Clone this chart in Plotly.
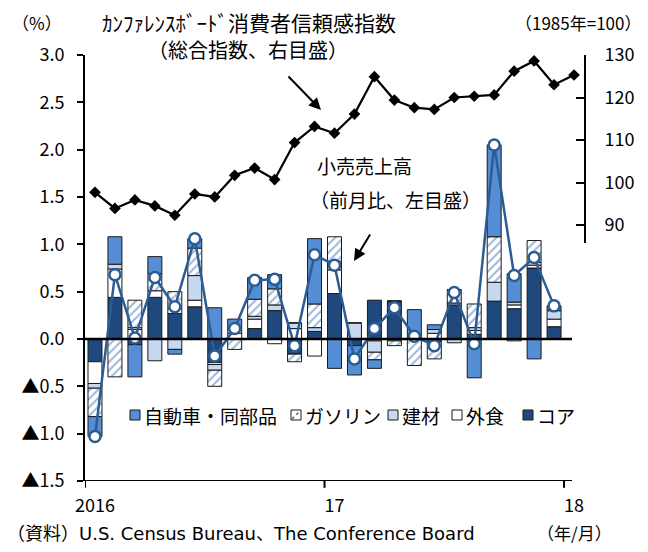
import plotly.graph_objects as go

# month index: 0 = Jan 2016
months = list(range(24))
months_ci = list(range(25))

# retail sales, contribution to m/m % change (left axis)
core = [-0.24, 0.44, -0.06, 0.44, 0.27, 0.34, -0.25, 0.00, 0.11, 0.30, -0.16, 0.08,
        0.48, -0.07, 0.41, 0.40, 0.00, -0.03, 0.36, 0.05, 0.40, 0.32, 0.75, 0.13]
food = [-0.23, 0.30, 0.10, 0.07, 0.05, 0.07, -0.02, 0.06, 0.10, -0.05, 0.11, -0.18,
        0.25, 0.00, -0.02, -0.02, 0.00, 0.06, 0.02, 0.04, 0.00, 0.04, 0.03, 0.08]
bldg = [-0.05, 0.05, 0.02, -0.23, -0.11, 0.26, -0.06, 0.04, 0.03, 0.06, 0.06, 0.04,
        0.09, 0.17, -0.12, 0.00, 0.00, 0.04, -0.04, 0.03, 0.20, 0.03, 0.03, 0.09]
gas = [-0.30, -0.40, 0.29, 0.18, 0.18, 0.29, -0.17, -0.11, 0.18, 0.17, -0.08, 0.25,
       0.26, 0.00, -0.08, -0.05, -0.28, -0.18, 0.14, 0.25, 0.48, -0.02, 0.23, 0.00]
auto = [-0.21, 0.29, -0.34, 0.18, -0.05, 0.10, 0.33, 0.11, 0.23, 0.15, 0.00, 0.69,
        -0.31, -0.31, -0.09, 0.00, 0.31, 0.05, 0.00, -0.41, 0.97, 0.30, -0.21, 0.05]
total = [-1.03, 0.68, 0.01, 0.65, 0.34, 1.06, -0.18, 0.11, 0.62, 0.63, -0.07, 0.89,
         0.78, -0.21, 0.11, 0.33, 0.03, -0.07, 0.49, -0.05, 2.05, 0.67, 0.86, 0.35]

# Conference Board consumer confidence (right axis)
conf = [97.7, 93.9, 95.9, 94.5, 92.3, 97.3, 96.6, 101.7, 103.4, 100.7, 109.4, 113.2,
        111.6, 116.1, 124.9, 119.4, 117.6, 117.2, 120.0, 120.3, 120.6, 126.2, 128.6, 123.0, 125.3]

left_ticks = [3.0, 2.5, 2.0, 1.5, 1.0, 0.5, 0.0, -0.5, -1.0, -1.5]
left_text = ["3.0", "2.5", "2.0", "1.5", "1.0", "0.5", "0.0", "▲0.5", "▲1.0", "▲1.5"]
right_ticks = [90, 100, 110, 120, 130]
x_ticks = [0, 12, 24]
x_text = ["2016", "17", "18"]

FONT = "Liberation Sans Narrow, Arial Narrow, Noto Sans CJK JP, sans-serif"
JP = "Noto Sans CJK JP, sans-serif"
WIDE = "DejaVu Sans, Noto Sans CJK JP, sans-serif"
EDGE = dict(color="#1a1a1a", width=1)
C_CORE, C_FOOD, C_BLDG, C_AUTO, C_HATCH = "#1f497d", "#ffffff", "#c6d9f1", "#558ed5", "#3c70b4"

# the page body adds an 8px margin, so the figure is 8px smaller than the window.
# positions below are given in window pixels; plot area: left 85, right 584, top 55, bottom 481
def px(x):
    return (x - 85) / 499

def py(y):
    return (481 - y) / 426

fig = go.Figure()

# stacking order from zero outward: core, food, building, gasoline, autos
fig.add_trace(go.Bar(x=months, y=core, name="コア",
                     marker=dict(color=C_CORE, line=EDGE)))
fig.add_trace(go.Bar(x=months, y=food, name="外食",
                     marker=dict(color=C_FOOD, line=EDGE)))
fig.add_trace(go.Bar(x=months, y=bldg, name="建材",
                     marker=dict(color=C_BLDG, line=EDGE)))
fig.add_trace(go.Bar(x=months, y=gas, name="ガソリン",
                     marker=dict(color="#ffffff", line=EDGE,
                                 pattern=dict(shape="/", fgcolor=C_HATCH,
                                              bgcolor="#ffffff", size=6, solidity=0.35))))
fig.add_trace(go.Bar(x=months, y=auto, name="自動車・同部品",
                     marker=dict(color=C_AUTO, line=EDGE)))

fig.add_trace(go.Scatter(x=months, y=total, mode="lines+markers",
                         line=dict(color="#2b5c93", width=2.5),
                         marker=dict(symbol="circle", size=11, color="#ffffff",
                                     line=dict(color="#2b5c93", width=2.5))))

fig.add_trace(go.Scatter(x=months_ci, y=conf, mode="lines+markers",
                         yaxis="y2", line=dict(color="#000000", width=2.2),
                         marker=dict(symbol="diamond", size=9, color="#000000")))

fig.update_layout(
    width=640, height=544,
    margin=dict(l=77, r=64, t=47, b=71),
    paper_bgcolor="white", plot_bgcolor="rgba(0,0,0,0)",
    barmode="relative", bargap=0.3,
    font=dict(family=FONT, size=17, color="#000000"),
    showlegend=False,
    xaxis=dict(range=[-0.5, 24.5], tickvals=x_ticks, ticktext=x_text,
               showline=False, ticks="", showgrid=False, zeroline=False,
               tickfont=dict(size=18), ticklabelstandoff=12),
    yaxis=dict(range=[-1.5, 3.0], tickvals=left_ticks, ticktext=left_text,
               showline=True, linecolor="#000000", linewidth=2,
               ticks="outside", ticklen=6, tickwidth=2, tickcolor="#000000",
               showgrid=False, zeroline=False, tickfont=dict(size=18),
               ticklabelstandoff=9),
    yaxis2=dict(range=[85.8, 130], domain=[0.559, 1], anchor="x", side="right",
                tickvals=right_ticks, showline=True, linecolor="#000000", linewidth=2,
                ticks="inside", ticklen=8, tickwidth=2, tickcolor="#000000",
                showgrid=False, zeroline=False, tickfont=dict(size=18),
                ticklabelstandoff=15),
)

# zero line and bottom axis line (end just past the last bar)
for yv in [0, -1.5]:
    fig.add_shape(type="line", xref="x", yref="y", x0=-0.5, x1=23.9, y0=yv, y1=yv,
                  line=dict(color="#000000", width=2.5 if yv == 0 else 2))
# year boundary tick marks
for xv in [-0.5, 11.5, 23.5]:
    fig.add_shape(type="line", xref="x", yref="paper", x0=xv, x1=xv, y0=0, y1=-0.016,
                  line=dict(color="#000000", width=2))

# legend drawn by hand: one row of small swatches
legend = [("自動車・同部品", C_AUTO, 135), ("ガソリン", None, 296), ("建材", C_BLDG, 393),
          ("外食", C_FOOD, 457), ("コア", C_CORE, 528)]
ly = 415
for name, col, lx in legend:
    fig.add_shape(type="rect", xref="paper", yref="paper",
                  x0=px(lx - 5), x1=px(lx + 5), y0=py(ly + 5), y1=py(ly - 5),
                  fillcolor=col if col else "#ffffff", line=dict(color="#1a1a1a", width=1))
    if col is None:
        fig.add_shape(type="line", xref="paper", yref="paper",
                      x0=px(lx - 4), x1=px(lx + 4), y0=py(ly + 4), y1=py(ly - 4),
                      line=dict(color=C_HATCH, width=1.5, dash="dot"))
    fig.add_annotation(text=name, xref="paper", yref="paper", x=px(lx + 7), y=py(ly),
                       xanchor="left", yanchor="middle", showarrow=False,
                       font=dict(family=JP, size=19))

ann = [
    dict(text="（%）", x=37, y=22, size=17, anchor="center", fam=FONT),
    dict(text="ｶﾝﾌｧﾚﾝｽﾎﾞｰﾄﾞ消費者信頼感指数", x=249, y=22, size=21, anchor="center", fam=FONT),
    dict(text="（総合指数、右目盛）", x=248, y=50, size=20, anchor="center", fam=FONT),
    dict(text="（1985年=100）", x=642, y=22, size=17, anchor="right", fam=FONT),
    dict(text="小売売上高", x=316, y=165, size=19, anchor="left", fam=FONT),
    dict(text="（前月比、左目盛）", x=309, y=199, size=19, anchor="left", fam=FONT),
    dict(text="（年/月）", x=574, y=532, size=17, anchor="center", fam=FONT),
    dict(text="（資料）U.S. Census Bureau、The Conference Board", x=6, y=533, size=18,
         anchor="left", fam=WIDE),
]
for a in ann:
    fig.add_annotation(text=a["text"], xref="paper", yref="paper",
                       x=px(a["x"]), y=py(a["y"]),
                       xanchor=a["anchor"], yanchor="middle", showarrow=False,
                       borderpad=0, font=dict(family=a["fam"], size=a["size"]))

# arrows pointing at the two series
for (x0, y0, x1, y1) in [(287, 75, 321, 110), (371, 233, 354, 261)]:
    fig.add_annotation(xref="paper", yref="paper", axref="pixel", ayref="pixel",
                       x=px(x1), y=py(y1), ax=x0 - x1, ay=y0 - y1,
                       text="", showarrow=True, arrowhead=2, arrowsize=1.2,
                       arrowwidth=2, arrowcolor="#000000")

fig.write_html("out.html")
